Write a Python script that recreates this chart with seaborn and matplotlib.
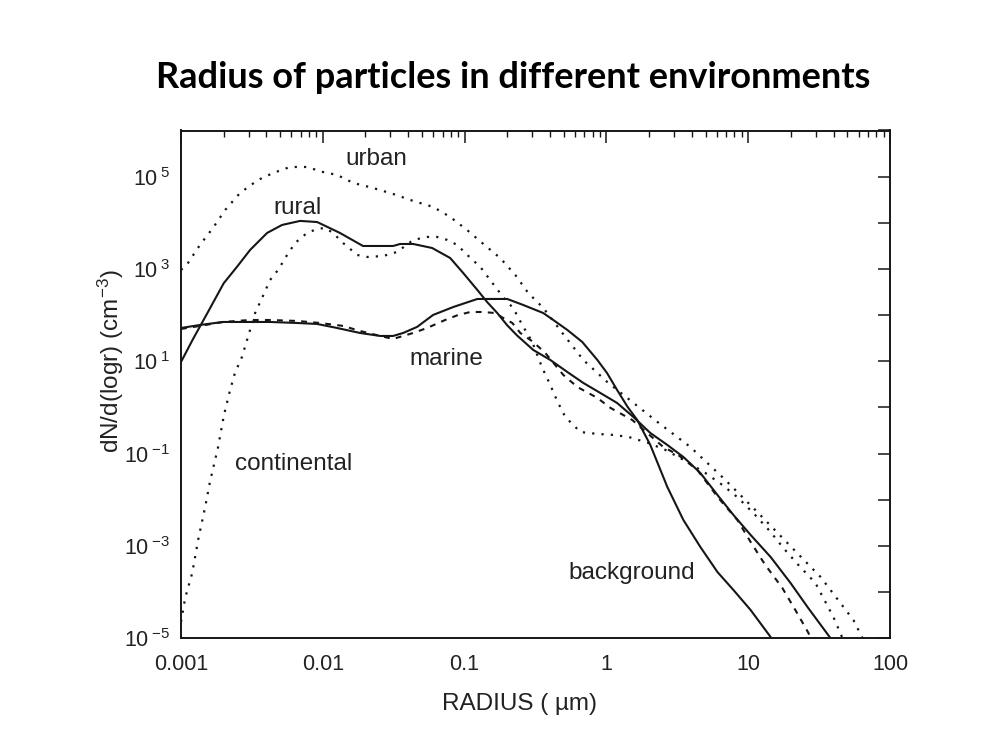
import numpy as np
import pandas as pd
import matplotlib
matplotlib.use("Agg")
import matplotlib.pyplot as plt
import seaborn as sns
from matplotlib.ticker import FixedLocator, FuncFormatter, LogLocator, NullLocator

sns.set_theme(style="white")
plt.rcParams['font.family'] = ['Liberation Sans', 'DejaVu Sans']
plt.rcParams['mathtext.default'] = 'regular'

# ---------------- data (radius in um, dN/dlogr in cm^-3) ----------------
urban_r = [0.001, 0.00112, 0.00136, 0.00168, 0.00205, 0.00261, 0.00349, 0.00446, 0.00587, 0.00774,
           0.01005, 0.0126, 0.0164, 0.0226, 0.0313, 0.0434, 0.0600, 0.0791, 0.104, 0.133,
           0.178, 0.228, 0.281, 0.359, 0.489, 0.687, 1.014, 1.52, 2.29, 3.91,
           6.68, 11.6, 18.9, 32.4, 55.2, 64.0]
urban_n = [950, 1350, 3310, 7740, 19000, 44400, 84700, 120000, 162000, 162000,
           126000, 109000, 73100, 56900, 42200, 29800, 22100, 13400, 7010, 3660,
           1730, 741, 302, 143, 41.1, 10.7, 3.56, 1.32, 0.485, 0.139,
           0.0296, 0.00543, 0.00116, 0.000212, 2.48e-5, 1.01e-5]

rural_r = [0.001, 0.00122, 0.00152, 0.00200, 0.00248, 0.00307, 0.00405, 0.00516, 0.00692, 0.00912,
           0.0132, 0.0192, 0.0313, 0.0351, 0.0434, 0.0590, 0.0791, 0.0977, 0.123, 0.144,
           0.170, 0.200, 0.235, 0.305, 0.402, 0.530, 0.687, 0.906, 1.19, 1.55,
           2.04, 2.69, 3.49, 4.60, 6.07, 7.87, 10.4, 14.4, 19.9, 26.2, 38.0]
rural_n = [9.66, 31.0, 105, 490, 1110, 2580, 6040, 8990, 11000, 10400,
           6040, 3150, 3150, 3480, 3480, 2850, 1730, 820, 351, 193,
           111, 60.0, 36.0, 17.6, 10.7, 5.87, 3.40, 2.06, 1.25, 0.622,
           0.280, 0.154, 0.0845, 0.0380, 0.0127, 0.00468, 0.00173, 0.000575, 0.000157, 4.75e-5, 1.01e-5]

cont_r = [0.001, 0.00107, 0.00120, 0.00132, 0.00148, 0.00160, 0.00182, 0.00201, 0.00222, 0.00240,
          0.00269, 0.00307, 0.00333, 0.00373, 0.00425, 0.00484, 0.00560, 0.00638, 0.00774, 0.00912,
          0.0104, 0.0118, 0.0139, 0.0175, 0.0206, 0.0267, 0.0334, 0.0434, 0.0544, 0.0641,
          0.0754, 0.0887, 0.110, 0.129, 0.157, 0.194, 0.220, 0.255, 0.300, 0.353,
          0.402, 0.450, 0.513, 0.655, 0.863, 1.12, 1.43, 1.98, 2.61, 3.72,
          4.99, 6.58, 8.53, 11.2, 14.4, 17.7, 22.6, 29.8, 39.9, 46.2]
cont_n = [2.25e-5, 7.45e-5, 2.59e-4, 1.34e-3, 6.97e-3, 0.0243, 0.132, 0.689, 2.39, 5.58,
          12.4, 47.8, 111, 236, 578, 953, 2010, 3660, 6040, 7360,
          7740, 6040, 3660, 2010, 1820, 1910, 2340, 4260, 4940, 4940,
          4260, 3310, 1730, 1110, 498, 213, 143, 61.2, 26.2, 7.18,
          3.07, 1.38, 0.622, 0.294, 0.267, 0.254, 0.230, 0.170, 0.120, 0.0659,
          0.0380, 0.0209, 0.0109, 0.00468, 0.00200, 0.000902, 0.000386, 0.000157, 2.88e-5, 1.01e-5]

marine_r = [0.001, 0.00136, 0.00198, 0.00307, 0.00425, 0.00659, 0.00957, 0.0139, 0.0183, 0.0254,
            0.0313, 0.0434, 0.0544, 0.0729, 0.0902, 0.110, 0.135, 0.164, 0.187, 0.217,
            0.247, 0.305, 0.371, 0.497, 0.624, 0.863, 1.07, 1.52, 2.52, 3.21,
            4.38, 6.17, 8.39, 10.4, 13.2, 17.4, 21.5, 26.6, 27.5]
marine_n = [50.2, 58.4, 71.1, 78.5, 78.5, 74.8, 67.6, 58.4, 45.4, 35.4,
            30.5, 41.1, 52.7, 78.5, 101, 117, 117, 111, 86.9, 67.6,
            41.1, 26.2, 15.1, 5.06, 2.78, 1.61, 0.975, 0.536, 0.139, 0.0935,
            0.0442, 0.0109, 0.00365, 0.00122, 0.000386, 0.000123, 4.09e-5, 1.30e-5, 1.01e-5]

bg_r = [0.001, 0.00136, 0.00198, 0.00292, 0.00425, 0.00659, 0.00912, 0.0126, 0.0183, 0.0254,
        0.0313, 0.0369, 0.0462, 0.0600, 0.0832, 0.123, 0.200, 0.259, 0.359, 0.422,
        0.530, 0.676, 0.863, 1.01, 1.19, 1.41, 1.65, 2.04, 2.69, 3.49,
        4.60, 6.07, 7.87, 10.4, 14.4]
bg_n = [52.7, 61.2, 71.1, 71.1, 71.1, 67.6, 64.4, 52.7, 41.1, 35.4,
        35.4, 41.1, 55.5, 101, 150, 224, 224, 166, 111, 78.5,
        47.8, 26.2, 10.7, 5.58, 2.39, 1.03, 0.536, 0.154, 0.0189, 0.00365,
        0.000948, 0.000272, 0.000111, 4.09e-5, 1.06e-5]

labels = ["urban", "rural", "marine", "continental", "background"]
label_r = [0.0238, 0.00659, 0.0741, 0.00627, 1.52]
label_n = [2.42e5, 2.1e4, 11.2, 0.0597, 2.6e-4]

x_ticks = [0.001, 0.01, 0.1, 1, 10, 100]
y_exponents = list(range(-5, 7))
y_labelled = [-5, -3, -1, 1, 3, 5]

# ---------------- figure ----------------
ink = '#161616'
fig = plt.figure(figsize=(10, 7.5), dpi=100)
fig.patch.set_facecolor('white')
ax = fig.add_axes([0.181, 0.149, 0.709, 0.677])
ax.set_facecolor('white')
ax.set_xscale('log')
ax.set_yscale('log')

dotted = (0, (1, 3.2))
dashed = (0, (2.8, 3.0))
series = [
    (urban_r, urban_n, dotted, 1.6),
    (cont_r, cont_n, dotted, 1.6),
    (marine_r, marine_n, dashed, 1.5),
    (rural_r, rural_n, '-', 1.5),
    (bg_r, bg_n, '-', 1.5),
]
for r, n, ls, lw in series:
    df = pd.DataFrame({'r': r, 'n': n})
    sns.lineplot(data=df, x='r', y='n', ax=ax, color=ink, linestyle=ls,
                 linewidth=lw, estimator=None, sort=False)

ax.set_xlim(1e-3, 100)
ax.set_ylim(1e-5, 1e6)

ax.xaxis.set_major_locator(FixedLocator(x_ticks))
ax.xaxis.set_major_formatter(FuncFormatter(lambda v, p: f"{v:g}"))
ax.xaxis.set_minor_locator(LogLocator(base=10, subs=np.arange(2, 10), numticks=30))
ax.yaxis.set_major_locator(FixedLocator([10.0 ** e for e in y_exponents]))
ax.yaxis.set_minor_locator(NullLocator())


def yfmt(v, p):
    e = int(round(np.log10(v)))
    return f"10$\\,^{{{e}}}$" if e in y_labelled else ""


ax.yaxis.set_major_formatter(FuncFormatter(yfmt))

ax.tick_params(which='both', direction='in', top=True, right=True, color=ink,
               labelcolor='#222222', labelsize=15.5)
ax.tick_params(which='major', length=8.5, width=1.1)
ax.tick_params(which='minor', length=4.3, width=1.0)
ax.tick_params(axis='x', which='major', pad=11)
ax.tick_params(axis='y', which='major', pad=8)

for s in ax.spines.values():
    s.set_color(ink)
    s.set_linewidth(1.4)
    s.set_visible(True)

ax.set_xlabel("RADIUS ( µm)", fontsize=17.5, color='#222222')
ax.xaxis.set_label_coords(0.477, -0.108)
ax.set_ylabel("dN/d(logr) (cm$^{-3}$)", fontsize=17.5, color='#222222')
ax.yaxis.set_label_coords(-0.078, 0.545)

for t, r, n in zip(labels, label_r, label_n):
    ax.text(r, n, t, fontsize=17.5, color='#222222', ha='center', va='center')

fig.text(0.513, 0.897, "Radius of particles in different environments",
         fontsize=26, fontweight='bold', family=['Lato', 'DejaVu Sans'],
         ha='center', va='center', color='black')

fig.savefig("out.png", dpi=100, facecolor='white')
